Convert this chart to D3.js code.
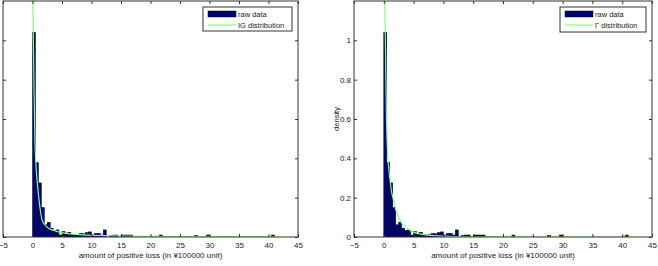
<!DOCTYPE html>
<html><head><meta charset="utf-8">
<script src="https://cdn.jsdelivr.net/npm/d3@7"></script>
<style>
html,body{margin:0;padding:0;background:#fff;}
svg{display:block;font-family:"Liberation Sans",Arial,sans-serif;}
</style></head>
<body>
<svg id="chart" width="658" height="266"></svg>
<script>
// ---- data ----
const binWidth = 0.5;
const binStart = [0,0.5,1,1.5,2,2.5,3,3.5,4,4.5,5,5.5,6,6.5,7,7.5,8,8.5,9,9.5,10,10.5,11,11.5,12,13,13.5,14,15,15.5,16,16.5,21.5,27.5,29.5,40.5];
const density  = [1.04,0.378,0.275,0.15,0.062,0.075,0.045,0.034,0.036,0.01,0.028,0.02,0.024,0.014,0.01,0.012,0.018,0.016,0.022,0.026,0.01,0.018,0.018,0.01,0.036,0.008,0.01,0.01,0.01,0.01,0.01,0.01,0.01,0.008,0.01,0.01];

const igX = [0.07,0.1,0.15,0.25,0.4,0.6,0.8,1.0,1.3,1.6,2.0,2.5,3,4,5,6,8,10,12,15,20,25,30,35,41];
const igY = [1.25,1.15,1.0,0.77,0.5,0.36,0.28,0.22,0.14,0.09,0.065,0.05,0.04,0.03,0.022,0.017,0.012,0.009,0.007,0.005,0.003,0.002,0.001,0.0007,0.0004];

const gamX = [0.15,0.18,0.25,0.35,0.45,0.6,0.8,1.05,1.3,1.6,2.0,2.5,3.0,3.5,4.0,5.0,6,7,8,10,12,15,20,30,41];
const gamY = [1.3,1.2,1.04,0.8,0.6,0.46,0.36,0.29,0.23,0.19,0.14,0.1,0.07,0.055,0.042,0.025,0.016,0.011,0.008,0.004,0.002,0.001,0.0003,0,0];

const xTicks = [-5,0,5,10,15,20,25,30,35,40,45];
const yTicks = [0,0.2,0.4,0.6,0.8,1];
const xLabel = "amount of positive loss (in ¥100000 unit)";
const legendLabels = ["raw data", "IG distribution", "Γ distribution"];

// ---- drawing ----
const svg = d3.select("#chart");
const barColor = "#00007f";
const lineColor = "#80ff80";

function panel(id, left, right, top, bottom, cx, cy, legendLabel, legendBox, showYLabels) {
  const x = d3.scaleLinear().domain([-5,45]).range([left,right]);
  const y = d3.scaleLinear().domain([0,1.2]).range([bottom,top]);
  const g = svg.append("g");
  g.append("clipPath").attr("id","clip"+id).append("rect")
    .attr("x",left).attr("y",top).attr("width",right-left).attr("height",bottom-top);
  const pg = g.append("g").attr("clip-path","url(#clip"+id+")");
  pg.selectAll("rect.bar").data(binStart).enter().append("rect")
    .attr("x",(d)=>x(d)).attr("width",(d)=>x(d+binWidth)-x(d))
    .attr("y",(d,i)=>y(density[i])).attr("height",(d,i)=>y(0)-y(density[i]))
    .attr("fill",barColor).attr("stroke","#000").attr("stroke-width",0.5);
  const pts = cx.map((v,i)=>[v,cy[i]]);
  pg.append("path").datum(pts)
    .attr("d", d3.line().x(d=>x(d[0])).y(d=>y(d[1])).curve(d3.curveMonotoneX))
    .attr("fill","none").attr("stroke",lineColor).attr("stroke-width",1.2);

  // box
  g.append("rect").attr("x",left).attr("y",top).attr("width",right-left).attr("height",bottom-top)
    .attr("fill","none").attr("stroke","#333").attr("stroke-width",1);

  const tl = 3;
  const xb = d3.axisBottom(x).tickValues(xTicks).tickSize(-tl).tickPadding(6).tickFormat(d3.format("d"));
  const ga = g.append("g").attr("transform",`translate(0,${bottom})`).call(xb);
  const xt = d3.axisTop(x).tickValues(xTicks).tickSize(-tl).tickFormat("");
  const gt = g.append("g").attr("transform",`translate(0,${top})`).call(xt);
  const yl = d3.axisLeft(y).tickValues(yTicks).tickSize(-tl).tickPadding(3).tickFormat(showYLabels? d3.format("~g") : "");
  const gl = g.append("g").attr("transform",`translate(${left},0)`).call(yl);
  const yr = d3.axisRight(y).tickValues(yTicks).tickSize(-tl).tickFormat("");
  const gr = g.append("g").attr("transform",`translate(${right},0)`).call(yr);
  [ga,gt,gl,gr].forEach(a=>{
    a.select(".domain").remove();
    a.selectAll(".tick line").attr("stroke","#333");
    a.selectAll("text").attr("font-size",8).attr("fill","#222").attr("font-family","Liberation Sans, Arial, sans-serif");
  });
  ga.selectAll("text").attr("dy","0.6em");

  g.append("text").attr("x",(left+right)/2).attr("y",bottom+21).attr("text-anchor","middle")
    .attr("font-size",8).attr("fill","#222").text(xLabel);

  // legend
  const [lx,ly,lw,lh] = legendBox;
  const lg = g.append("g");
  lg.append("rect").attr("x",lx).attr("y",ly).attr("width",lw).attr("height",lh)
    .attr("fill","#fff").attr("stroke","#333").attr("stroke-width",1);
  lg.append("rect").attr("x",lx+5).attr("y",ly+4).attr("width",28).attr("height",6)
    .attr("fill",barColor).attr("stroke","#000").attr("stroke-width",0.5);
  lg.append("text").attr("x",lx+35).attr("y",ly+10).attr("font-size",7.5).attr("fill","#222").text(legendLabels[0]);
  lg.append("line").attr("x1",lx+5).attr("x2",lx+33).attr("y1",ly+18).attr("y2",ly+18)
    .attr("stroke",lineColor).attr("stroke-width",1.2);
  lg.append("text").attr("x",lx+35).attr("y",ly+21).attr("font-size",7.5).attr("fill","#222").text(legendLabel);
  return g;
}

panel("L", 3, 298, 1, 237, igX, igY, legendLabels[1], [203,7,89,24], false);
panel("R", 354, 652, 1, 237, gamX, gamY, legendLabels[2], [560,7,86,25], true);

svg.append("text").attr("transform","translate(339,119) rotate(-90)")
  .attr("text-anchor","middle").attr("font-size",7.5).attr("fill","#222").text("density");
</script>
</body></html>
